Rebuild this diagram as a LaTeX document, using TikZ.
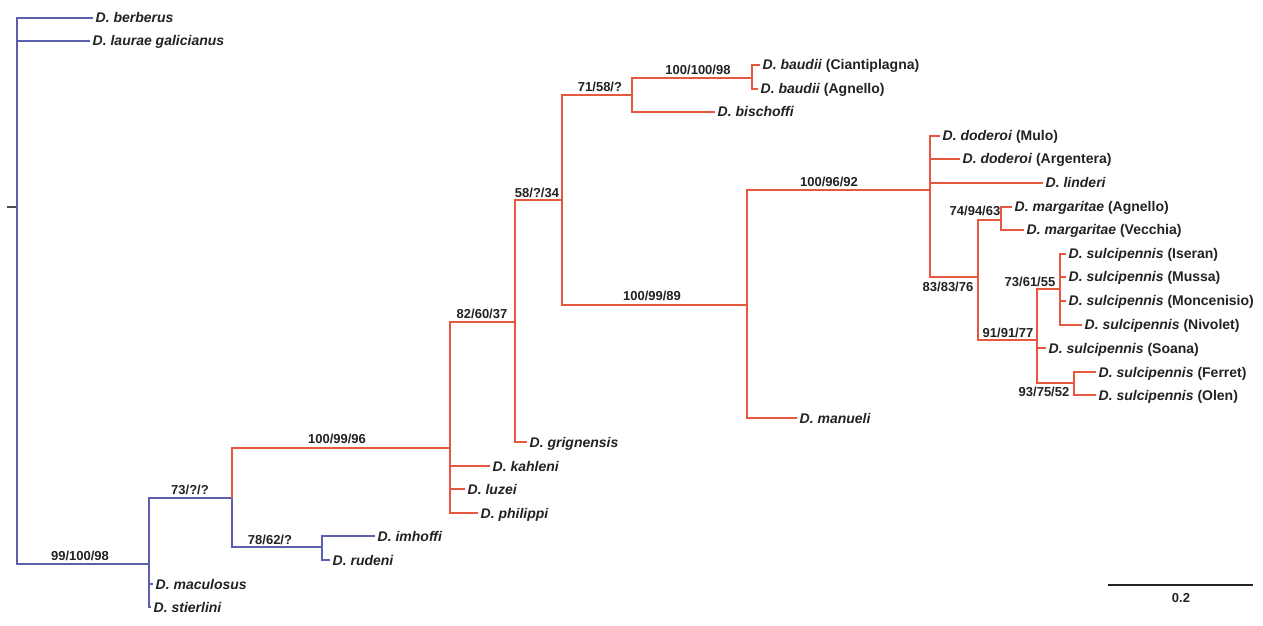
\documentclass[tikz,border=0pt]{standalone}
\usepackage{fontspec}
\setmainfont{Liberation Sans}
\usepackage{tikz}
\definecolor{ink}{HTML}{222222}
\definecolor{outgrp}{HTML}{5C5EAE}
\definecolor{ingrp}{HTML}{E6583F}
\tikzset{
  bbr/.style={draw=outgrp, line width=2bp, line join=miter},
  rbr/.style={draw=ingrp, line width=2bp, line join=miter},
  stub/.style={draw=ink!80, line width=2bp},
  bar/.style={draw=ink, line width=2.8bp},
  tip/.style={anchor=west, inner xsep=2.5bp, inner ysep=0pt, text=ink,
    font=\fontsize{14bp}{16bp}\selectfont\bfseries\itshape,
    text height=11bp, text depth=1bp},
  sup/.style={inner sep=0pt, text=ink,
    font=\fontsize{13bp}{15bp}\selectfont\bfseries,
    text height=9.3bp, text depth=0pt},
}
\newcommand{\loc}[1]{\textup{(#1)}}

\begin{document}
\begin{tikzpicture}[x=1bp, y=-1bp]
  \useasboundingbox (0,0) rectangle (1263,626);

  % internal nodes
  \coordinate (root)  at (17,207);
  \coordinate (rootl) at (7,207);
  \coordinate (n148)  at (149,564);
  \coordinate (n233)  at (232,498);
  \coordinate (n322)  at (322,547);
  \coordinate (n450)  at (450,448);
  \coordinate (n515)  at (515,322);
  \coordinate (n562)  at (562,200);
  \coordinate (n632)  at (632,95);
  \coordinate (n752)  at (752,78);
  \coordinate (n747)  at (747,305);
  \coordinate (n930)  at (930,190);
  \coordinate (n978)  at (978,277);
  \coordinate (n1001) at (1001,220);
  \coordinate (n1037) at (1037,340);
  \coordinate (n1060) at (1060,289);
  \coordinate (n1074) at (1074,383);

  % tips
  \node[tip] (berb) at (93,18)   {D. berberus};
  \node[tip] (laur) at (90,41)   {D. laurae galicianus};
  \node[tip] (bauC) at (760,65)  {D. baudii \loc{Ciantiplagna}};
  \node[tip] (bauA) at (758,89)  {D. baudii \loc{Agnello}};
  \node[tip] (bisc) at (715,112) {D. bischoffi};
  \node[tip] (dodM) at (940,136) {D. doderoi \loc{Mulo}};
  \node[tip] (dodA) at (960,159) {D. doderoi \loc{Argentera}};
  \node[tip] (lind) at (1043,183) {D. linderi};
  \node[tip] (marA) at (1012,207) {D. margaritae \loc{Agnello}};
  \node[tip] (marV) at (1024,230) {D. margaritae \loc{Vecchia}};
  \node[tip] (sulI) at (1066,254) {D. sulcipennis \loc{Iseran}};
  \node[tip] (sulU) at (1066,277) {D. sulcipennis \loc{Mussa}};
  \node[tip] (sulC) at (1066,301) {D. sulcipennis \loc{Moncenisio}};
  \node[tip] (sulN) at (1082,325) {D. sulcipennis \loc{Nivolet}};
  \node[tip] (sulS) at (1046,348) {D. sulcipennis \loc{Soana}};
  \node[tip] (sulF) at (1096,372) {D. sulcipennis \loc{Ferret}};
  \node[tip] (sulO) at (1096,395) {D. sulcipennis \loc{Olen}};
  \node[tip] (manu) at (797,418) {D. manueli};
  \node[tip] (grig) at (527,442) {D. grignensis};
  \node[tip] (kahl) at (490,466) {D. kahleni};
  \node[tip] (luze) at (465,489) {D. luzei};
  \node[tip] (phil) at (478,513) {D. philippi};
  \node[tip] (imho) at (375,536) {D. imhoffi};
  \node[tip] (rude) at (330,560) {D. rudeni};
  \node[tip] (macu) at (153,584) {D. maculosus};
  \node[tip] (stie) at (151,607) {D. stierlini};

  % support values
  \node[sup] (s148)  at (80,556)   {99/100/98};
  \node[sup] (s233)  at (190,490)  {73/?/?};
  \node[sup] (s322)  at (270,540)  {78/62/?};
  \node[sup] (s450)  at (337,439)  {100/99/96};
  \node[sup] (s515)  at (482,314)  {82/60/37};
  \node[sup] (s562)  at (537,193)  {58/?/34};
  \node[sup] (s632)  at (600,87)   {71/58/?};
  \node[sup] (s752)  at (698,70)   {100/100/98};
  \node[sup] (s747)  at (652,296)  {100/99/89};
  \node[sup] (s930)  at (829,182)  {100/96/92};
  \node[sup] (s1001) at (975,211)  {74/94/63};
  \node[sup] (s978)  at (948,287)  {83/83/76};
  \node[sup] (s1037) at (1008,333) {91/91/77};
  \node[sup] (s1060) at (1030,282) {73/61/55};
  \node[sup] (s1074) at (1044,392) {93/75/52};

  % outgroup branches
  \draw[stub] (rootl) -- (root);
  \draw[bbr] (root) |- (berb.west);
  \draw[bbr] (root) |- (laur.west);
  \draw[bbr] (root) |- (n148);
  \draw[bbr] (n148) |- (n233);
  \draw[bbr] (n148) |- (macu.west);
  \draw[bbr] (n148) |- (stie.west);
  \draw[bbr] (n233) |- (n322);
  \draw[bbr] (n322) |- (imho.west);
  \draw[bbr] (n322) |- (rude.west);

  % ingroup branches
  \draw[rbr] (n233) |- (n450);
  \draw[rbr] (n450) |- (n515);
  \draw[rbr] (n450) |- (kahl.west);
  \draw[rbr] (n450) |- (luze.west);
  \draw[rbr] (n450) |- (phil.west);
  \draw[rbr] (n515) |- (n562);
  \draw[rbr] (n515) |- (grig.west);
  \draw[rbr] (n562) |- (n632);
  \draw[rbr] (n562) |- (n747);
  \draw[rbr] (n632) |- (n752);
  \draw[rbr] (n632) |- (bisc.west);
  \draw[rbr] (n752) |- (bauC.west);
  \draw[rbr] (n752) |- (bauA.west);
  \draw[rbr] (n747) |- (n930);
  \draw[rbr] (n747) |- (manu.west);
  \draw[rbr] (n930) |- (dodM.west);
  \draw[rbr] (n930) |- (dodA.west);
  \draw[rbr] (n930) |- (lind.west);
  \draw[rbr] (n930) |- (n978);
  \draw[rbr] (n978) |- (n1001);
  \draw[rbr] (n978) |- (n1037);
  \draw[rbr] (n1001) |- (marA.west);
  \draw[rbr] (n1001) |- (marV.west);
  \draw[rbr] (n1037) |- (n1060);
  \draw[rbr] (n1037) |- (sulS.west);
  \draw[rbr] (n1037) |- (n1074);
  \draw[rbr] (n1060) |- (sulI.west);
  \draw[rbr] (n1060) |- (sulU.west);
  \draw[rbr] (n1060) |- (sulC.west);
  \draw[rbr] (n1060) |- (sulN.west);
  \draw[rbr] (n1074) |- (sulF.west);
  \draw[rbr] (n1074) |- (sulO.west);

  % scale bar
  \coordinate (barl) at (1108,585);
  \coordinate (barr) at (1253,585);
  \draw[bar] (barl) -- (barr);
  \node[sup] (barlab) at (1181,598) {0.2};
\end{tikzpicture}
\end{document}
